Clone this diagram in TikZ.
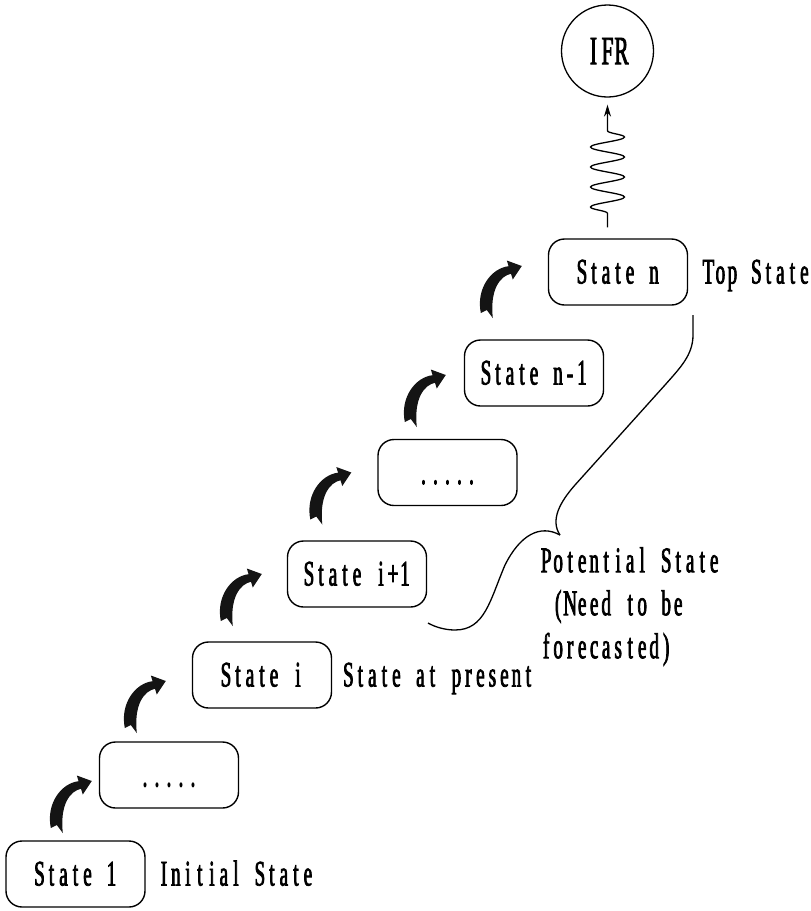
\documentclass[tikz,border=0pt]{standalone}
\usepackage{fontspec}
\setmainfont{Liberation Serif}[FakeStretch=0.53,FakeBold=2]
\usetikzlibrary{decorations.pathmorphing,arrows.meta,calc}

% fixed-pitch setting: every character sits in a cell of equal width
\ExplSyntaxOn
\NewDocumentCommand\mono{O{12pt}m}{\tl_map_inline:nn{#2}{\makebox[#1]{##1}}}
\ExplSyntaxOff

\tikzset{
  every node/.style={font=\fontsize{36}{43}\selectfont},
  statebox/.style={draw, line width=1.4pt, rounded corners=16pt,
    minimum width=139pt, minimum height=66pt, inner sep=0pt,
    text height=23pt, text depth=0pt},
  sidelabel/.style={anchor=west, inner sep=0pt, text height=23pt, text depth=0pt},
  goal/.style={draw, circle, line width=1.3pt, minimum size=92pt, inner sep=0pt,
    font=\fontsize{40}{44}\selectfont},
  thin line/.style={line width=1.3pt},
  swoosh/.pic={
    \fill[black!92] (-41,47) .. controls (-46,22) and (-30,2) .. (-13.2,0.2)
      -- (-15,-5.5) -- (0,0) -- (-9,13.5) -- (-10.8,7.8)
      .. controls (-22,10) and (-32,24) .. (-29,52) -- (-35,44) -- cycle;
  }
}

\begin{document}
\begin{tikzpicture}[x=1pt, y=-1pt]
\useasboundingbox (0,0) rectangle (811,911);

% the staircase of states
\node[statebox] (s1) at (75.5,874) {\mono{State~1}};
\node[statebox] (s2) at (169,775)  {\mono{.....}};
\node[statebox] (s3) at (262,675)  {\mono{State~i}};
\node[statebox] (s4) at (357,574)  {\mono{State~i+1}};
\node[statebox] (s5) at (447.5,472.5) {\mono{.....}};
\node[statebox] (s6) at (534,373)  {\mono{State~n-1}};
\node[statebox] (s7) at (618,272)  {\mono{State~n}};

% ideal final result
\node[goal] (ifr) at (607.5,51) {\mono[14pt]{IFR}};

% labels beside the boxes
\node[sidelabel] (l1) at ([xshift=12pt]s1.east) {\mono{Initial~State}};
\node[sidelabel] (l3) at ([xshift=10pt]s3.east) {\mono{State~at~present}};
\node[sidelabel] (l7) at ([xshift=14pt]s7.east) {\mono{Top~State}};
\node[anchor=north west, inner sep=0pt, align=left] (pot) at (540,547)
  {\mono{Potential~State}\\\mono{~(Need~to~be}\\\mono{forecasted)}};

% step arrows
\pic at ([shift={(-7,6)}]s2.west)  {swoosh};
\pic at ([shift={(-26,6)}]s3.west) {swoosh};
\pic at ([shift={(-25,0)}]s4.west) {swoosh};
\pic at ([shift={(-26,0)}]s5.west) {swoosh};
\pic at ([shift={(-18,2)}]s6.west) {swoosh};
\pic at ([shift={(-26,-6)}]s7.west) {swoosh};

% wavy path from the top state to the ideal result
\coordinate (wb) at ([yshift=11pt]ifr.south |- s7.north);
\coordinate (wt) at ([yshift=-7pt]ifr.south);
\draw[thin line, decorate,
  decoration={snake, amplitude=17pt, segment length=20pt, pre length=14pt, post length=26pt},
  -{Stealth[length=12pt,width=7pt]}] (wb) -- (wt);

% brace grouping the potential states
\coordinate (bt) at (693,315);
\coordinate (bp) at (560,535);
\coordinate (be) at (428,623);
\draw[thin line] (bt) -- (693,335) .. controls (693,355) and (680,368) .. (665,385)
  -- (575,485) .. controls (560,502) and (550,520) .. (bp);
\draw[thin line] (bp) .. controls (540,524) and (520,535) .. (505,565)
  .. controls (490,600) and (485,630) .. (455,630)
  .. controls (445,630) and (435,627) .. (be);
\end{tikzpicture}
\end{document}
